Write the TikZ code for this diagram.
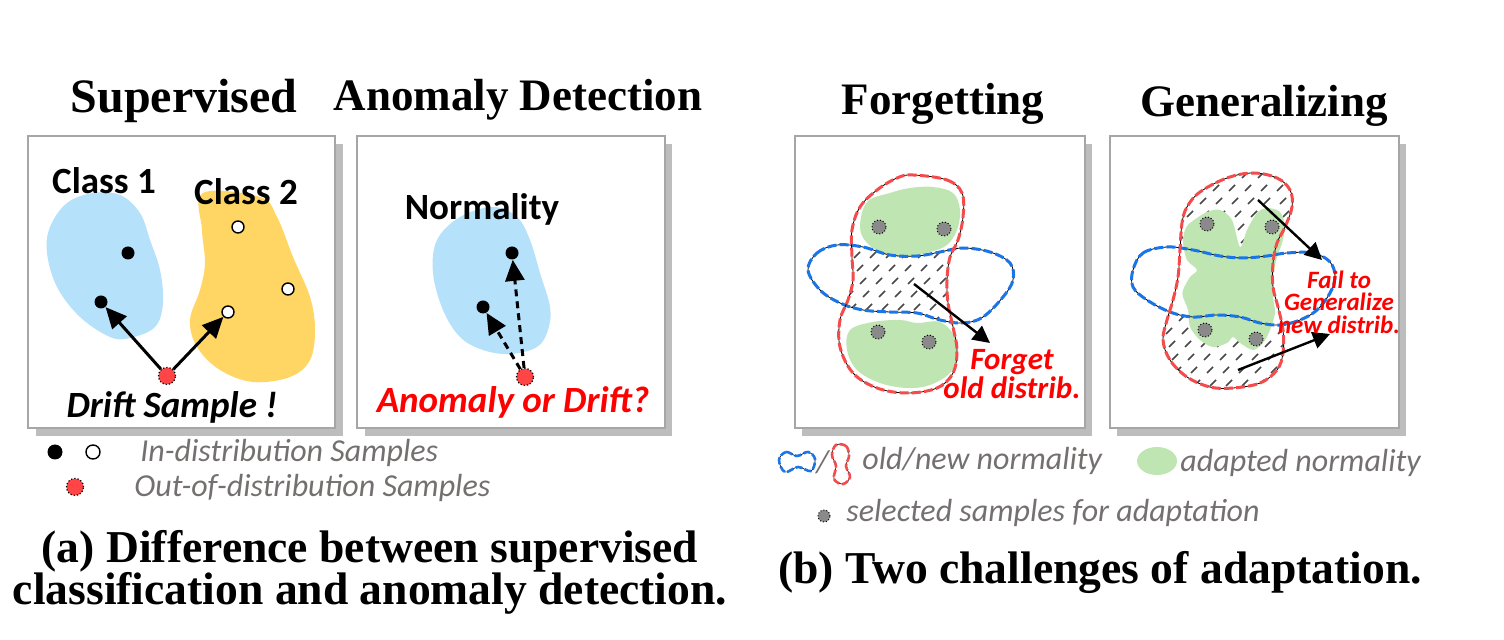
\documentclass[tikz,border=0pt]{standalone}
\usepackage{fontspec}
\setmainfont{Liberation Serif}
\newfontfamily\calibri{Carlito}
\definecolor{blobBlue}{HTML}{B5E1FB}
\definecolor{blobYellow}{HTML}{FFD663}
\definecolor{blobGreen}{HTML}{BFE6B2}
\definecolor{lineRed}{HTML}{F54B4B}
\definecolor{lineBlue}{HTML}{1A75E8}
\definecolor{textRed}{HTML}{FF0000}
\definecolor{textGray}{HTML}{747070}
\definecolor{shadowGray}{HTML}{BDBDBD}
\definecolor{frameGray}{HTML}{A6A6A6}
\definecolor{dotRed}{HTML}{FF4545}
\definecolor{dotGray}{HTML}{8A8A8A}
\usepackage{tikz}
\usetikzlibrary{arrows.meta, positioning}

\newcommand{\forgetNew}{plot[smooth cycle, tension=0.6] coordinates {(913,175) (947,180) (962,193) (963,217) (958,240) (950,257) (947,280) (948,303) (953,327) (957,350) (953,373) (937,388) (907,393) (877,388) (853,373) (840,347) (840,320) (848,300) (853,280) (852,257) (852,230) (860,207) (877,190) (897,178)}}
\newcommand{\forgetOld}{plot[smooth cycle, tension=0.6] coordinates {(808,270) (817,253) (837,245) (863,247) (890,255) (917,256) (940,252) (963,248) (990,252) (1010,263) (1013,280) (1003,297) (983,317) (963,323) (940,320) (917,313) (890,312) (863,310) (840,303) (820,290)}}
\newcommand{\generalNew}{plot[smooth cycle, tension=0.6] coordinates {(1200,192) (1227,178) (1253,173) (1277,178) (1290,190) (1292,207) (1285,227) (1277,243) (1273,263) (1273,287) (1278,307) (1283,330) (1283,353) (1277,370) (1260,383) (1233,388) (1210,387) (1187,377) (1170,360) (1163,340) (1167,320) (1173,300) (1178,277) (1180,250) (1182,223) (1187,207)}}
\newcommand{\generalOld}{plot[smooth cycle, tension=0.6] coordinates {(1133,270) (1143,253) (1167,247) (1193,250) (1220,256) (1243,258) (1267,256) (1287,253) (1313,253) (1330,262) (1335,277) (1330,293) (1317,310) (1300,320) (1280,325) (1260,323) (1240,317) (1217,315) (1193,317) (1170,312) (1147,300) (1133,287)}}

\tikzset{
  panel/.style={draw=frameGray, fill=white, line width=0.6pt},
  shadow/.style={fill=shadowGray},
  titleText/.style={font=\bfseries\fontsize{22.5}{26}\selectfont, inner sep=0pt, anchor=base},
  labelText/.style={font=\calibri\bfseries\fontsize{18.5}{20}\selectfont, inner sep=0pt, anchor=base},
  alertText/.style={font=\calibri\bfseries\itshape, text=textRed, align=center, inner sep=0pt},
  legendText/.style={font=\calibri\itshape\fontsize{16}{18}\selectfont, text=textGray, anchor=west, inner sep=0pt},
  capText/.style={font=\bfseries\fontsize{22.8}{21}\selectfont, align=center, inner sep=0pt},
  blackDot/.style={circle, fill=black, minimum size=6.5pt, inner sep=0pt},
  whiteDot/.style={circle, draw=black, fill=white, line width=0.7pt, minimum size=6pt, inner sep=0pt},
  driftDot/.style={circle, fill=dotRed, draw=black, densely dotted, line width=0.6pt, minimum size=8.5pt, inner sep=0pt},
  pickDot/.style={circle, fill=dotGray, draw=black, densely dotted, line width=0.5pt, minimum size=7pt, inner sep=0pt},
  bigArrow/.style={-{Triangle[length=10.5pt,width=9.5pt]}, line width=1.5pt},
  guessArrow/.style={bigArrow, dash pattern=on 3.5pt off 2.5pt},
  shiftArrow/.style={-{Triangle[length=8.5pt,width=8.5pt]}, line width=1.2pt},
  baseLine/.style={draw=black, line width=0.4pt},
  oldLine/.style={draw=lineBlue, line width=1.5pt, dash pattern=on 4.5pt off 1.6pt},
  newLine/.style={draw=lineRed, line width=1.5pt, dash pattern=on 4.5pt off 1.6pt},
  hatchLine/.style={draw=black!72, line width=0.8pt},
}

\begin{document}
\begin{tikzpicture}[x=0.5pt, y=-0.5pt]
\useasboundingbox (0,0) rectangle (1504,640);

% titles
\node[titleText, font=\bfseries\fontsize{24}{26}\selectfont] (supTitle) at (184,113) {Supervised};
\node[titleText] (adTitle) at (518,111) {Anomaly Detection};
\node[titleText] (forgetTitle) at (943,115) {Forgetting};
\node[titleText] (generalTitle) at (1264,117) {Generalizing};

% panels
\fill[shadow] (36,144) rectangle (343,436);
\draw[panel] (28,136) rectangle (335,428);
\fill[shadow] (365,144) rectangle (672,436);
\draw[panel] (357,136) rectangle (665,428);
\fill[shadow] (802,144) rectangle (1092,436);
\draw[panel] (795,136) rectangle (1085,428);
\fill[shadow] (1117,144) rectangle (1406,436);
\draw[panel] (1110,136) rectangle (1399,428);

% supervised
\fill[blobBlue] plot[smooth cycle, tension=0.6] coordinates {(120,195) (140,213) (150,240) (160,270) (163,303) (155,327) (130,338) (110,337) (80,317) (57,287) (47,253) (50,227) (67,203) (93,193)};
\fill[blobYellow] plot[smooth cycle, tension=0.6] coordinates {(203,193) (260,197) (277,217) (293,257) (310,297) (315,330) (310,360) (290,377) (253,382) (220,370) (197,347) (190,320) (200,290) (205,263) (202,230)};
\node[labelText] (classOne) at (104,194) {Class 1};
\node[labelText] (classTwo) at (246,205) {Class 2};
\node[blackDot] (inA) at (128,253) {};
\node[blackDot] (inB) at (101,302) {};
\node[whiteDot] (inC) at (238,227) {};
\node[whiteDot] (inD) at (288,289) {};
\node[whiteDot] (inE) at (228,312) {};
\node[driftDot] (driftOne) at (167,376) {};
\draw[bigArrow] (driftOne) -- (inB);
\draw[bigArrow] (driftOne) -- (inE);
\node[labelText, font=\calibri\bfseries\itshape\fontsize{18.5}{20}\selectfont] (driftText) at (172,418) {Drift Sample !};

% anomaly detection
\fill[blobBlue] plot[smooth cycle, tension=0.6] coordinates {(460,217) (493,207) (517,217) (530,240) (540,273) (550,307) (548,330) (537,347) (510,354) (483,350) (460,337) (443,310) (433,273) (437,240)};
\node[labelText] (normText) at (482,220) {Normality};
\node[blackDot] (normA) at (512,253) {};
\node[blackDot] (normB) at (483,307) {};
\node[driftDot] (driftTwo) at (525,377) {};
\draw[guessArrow] (driftTwo) -- (normA);
\draw[guessArrow] (driftTwo) -- (normB);
\node[labelText, font=\calibri\bfseries\itshape\fontsize{18.5}{20}\selectfont, text=textRed] (askText) at (513,413) {Anomaly or Drift?};

% forgetting
\begin{scope}
  \clip \forgetNew;
  \clip \forgetOld;
  \foreach \i in {0,...,11}
    \foreach \j in {0,...,7}
      \draw[hatchLine] ({822+16*\i+3*\j},{258+13*\j}) -- ++(6,-6);
\end{scope}
\fill[blobGreen] plot[smooth cycle, tension=0.6] coordinates {(867,202) (890,193) (910,188) (933,187) (953,193) (960,210) (957,230) (947,245) (930,252) (907,257) (883,253) (867,243) (860,227)};
\fill[blobGreen] plot[smooth cycle, tension=0.6] coordinates {(850,330) (873,322) (900,320) (917,323) (940,322) (955,337) (957,357) (950,373) (930,385) (907,388) (880,383) (857,370) (847,350)};
\draw[baseLine] \forgetOld;
\draw[oldLine] \forgetOld;
\draw[baseLine] \forgetNew;
\draw[newLine] \forgetNew;
\node[pickDot] (fgA) at (879,227) {};
\node[pickDot] (fgB) at (944,229) {};
\node[pickDot] (fgC) at (878,332) {};
\node[pickDot] (fgD) at (929,342) {};
\coordinate (forgetTail) at (914,284);
\coordinate (forgetHead) at (990,343);
\draw[shiftArrow] (forgetTail) -- (forgetHead);
\node[alertText, font=\calibri\bfseries\itshape\fontsize{15.5}{14.5}\selectfont] (forgetText) at (1012,374) {Forget\\old distrib.};

% generalizing
\begin{scope}
  \clip \generalNew;
  \foreach \i in {0,...,14}
    \foreach \j in {0,...,17}
      \draw[hatchLine] ({1098+16*\i+3*\j},{178+13*\j}) -- ++(6,-6);
\end{scope}
\fill[white] \generalOld;
\fill[blobGreen] plot[smooth cycle, tension=0.5] coordinates {(1190,223) (1207,212) (1220,210) (1232,220) (1240,247) (1247,230) (1257,213) (1267,208) (1280,212) (1285,227) (1282,243) (1277,257) (1273,277) (1273,297) (1275,313) (1270,330) (1263,343) (1253,350) (1240,343) (1233,337) (1227,343) (1213,347) (1200,340) (1190,327) (1188,310) (1183,297) (1183,290) (1190,277) (1197,270) (1187,260) (1183,243) (1185,230)};
\draw[baseLine] \generalOld;
\draw[oldLine] \generalOld;
\draw[baseLine] \generalNew;
\draw[newLine] \generalNew;
\node[pickDot] (gnA) at (1207,224) {};
\node[pickDot] (gnB) at (1272,227) {};
\node[pickDot] (gnC) at (1205,330) {};
\node[pickDot] (gnD) at (1256,339) {};
\coordinate (upTail) at (1258,200);
\coordinate (upHead) at (1322,260);
\coordinate (lowTail) at (1238,370);
\coordinate (lowHead) at (1330,334);
\draw[shiftArrow] (upTail) -- (upHead);
\draw[shiftArrow] (lowTail) -- (lowHead);
\node[alertText, font=\calibri\bfseries\itshape\fontsize{12.5}{11.2}\selectfont] (failText) at (1339,302) {Fail to\\Generalize\\new distrib.};

% legend a
\node[blackDot, minimum size=7.5pt] (keyBlack) at (55,452) {};
\node[whiteDot, minimum size=7pt] (keyWhite) at (93,452) {};
\node[legendText] (keyIn) at (140,453) {In-distribution Samples};
\node[driftDot] (keyDrift) at (75,487) {};
\node[legendText] (keyOut) at (134,488) {Out-of-distribution Samples};

% legend b
\draw[baseLine, line width=0.3pt] plot[smooth cycle, tension=0.6] coordinates {(779,460) (786,452) (797,456) (808,452) (815,459) (811,471) (798,467) (785,472)};
\draw[oldLine, line width=1.3pt, dash pattern=on 3.5pt off 1.2pt] plot[smooth cycle, tension=0.6] coordinates {(779,460) (786,452) (797,456) (808,452) (815,459) (811,471) (798,467) (785,472)};
\node[legendText] (keySlash) at (816,462) {/};
\draw[baseLine, line width=0.3pt] plot[smooth cycle, tension=0.6] coordinates {(836,445) (846,446) (849,456) (846,466) (850,477) (843,484) (834,479) (836,466) (832,455)};
\draw[newLine, line width=1.3pt, dash pattern=on 3.5pt off 1.2pt] plot[smooth cycle, tension=0.6] coordinates {(836,445) (846,446) (849,456) (846,466) (850,477) (843,484) (834,479) (836,466) (832,455)};
\node[legendText] (keyNorm) at (862,461) {old/new normality};
\fill[blobGreen] (1157,461) ellipse [x radius=20, y radius=14];
\node[legendText] (keyAdapt) at (1180,463) {adapted normality};
\node[pickDot, minimum size=6pt] (keyPick) at (824,516) {};
\node[legendText] (keySel) at (846,513) {selected samples for adaptation};

% captions
\node[capText] (capA) at (370,572) {(a) Difference between supervised\\classification and anomaly detection.};
\node[capText] (capB) at (1100,572) {(b) Two challenges of adaptation.};
\end{tikzpicture}
\end{document}
